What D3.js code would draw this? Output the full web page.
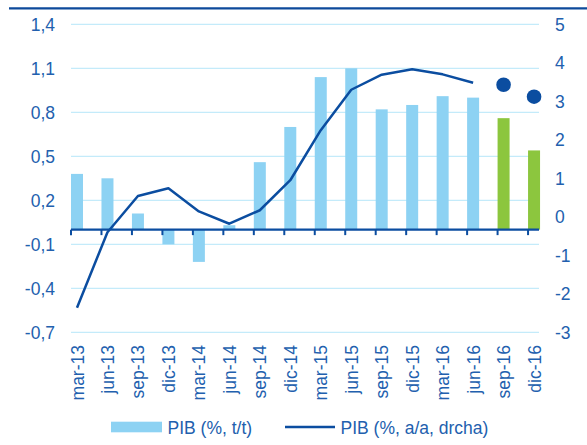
<!DOCTYPE html>
<html>
<head>
<meta charset="utf-8">
<script src="https://cdn.jsdelivr.net/npm/d3@7"></script>
<style>
  body { margin: 0; background: #fff; }
  svg { display: block; font-family: "Liberation Sans", Arial, sans-serif; }
</style>
</head>
<body>
<div id="chart"></div>
<script>
// datos
var categories = ['mar-13', 'jun-13', 'sep-13', 'dic-13', 'mar-14', 'jun-14', 'sep-14', 'dic-14',
  'mar-15', 'jun-15', 'sep-15', 'dic-15', 'mar-16', 'jun-16', 'sep-16', 'dic-16'];
var pibTrim = [0.38, 0.35, 0.11, -0.10, -0.22, 0.03, 0.46, 0.70, 1.04, 1.10, 0.82, 0.85, 0.91, 0.90, 0.76, 0.54];
var previsto = ['sep-16', 'dic-16'];
var pibAnual = [-2.36, -0.40, 0.54, 0.74, 0.14, -0.18, 0.17, 0.95, 2.25, 3.30, 3.69, 3.83, 3.70, 3.48, null, null];
var pibAnualPrev = [null, null, null, null, null, null, null, null, null, null, null, null, null, null, 3.43, 3.12];
var leftTicks = [-0.7, -0.4, -0.1, 0.2, 0.5, 0.8, 1.1, 1.4];
var rightTicks = [-3, -2, -1, 0, 1, 2, 3, 4, 5];
var legendLabels = ['PIB (%, t/t)', 'PIB (%, a/a, drcha)'];

var width = 587, height = 445;
var plotLeft = 71, plotRight = 539, plotTop = 24.3, plotBottom = 332.3;
var step = 30.47, barW = 12;
var textColor = '#2260ae', lineColor = '#0b4da0';

var es = d3.formatLocale({ decimal: ',', thousands: '.', grouping: [3], currency: ['', '€'], minus: '-' });
var fmt = es.format('.1f');

var svg = d3.select('#chart').append('svg')
  .attr('width', width)
  .attr('height', height);

var x = d3.scaleBand()
  .domain(categories)
  .range([plotLeft, plotLeft + step * categories.length])
  .padding(0);
var center = function(d) { return x(d) + barW / 2; };

var yL = d3.scaleLinear().domain([-0.7, 1.4]).range([plotBottom, plotTop]);
var yR = d3.scaleLinear().domain([-3, 5]).range([plotBottom, plotTop]);

// linea superior
svg.append('line')
  .attr('x1', 9).attr('x2', width)
  .attr('y1', 8.3).attr('y2', 8.3)
  .attr('stroke', '#0d4a9b').attr('stroke-width', 2.2);

// rejilla
svg.append('g').selectAll('line')
  .data(leftTicks)
  .enter().append('line')
  .attr('x1', plotLeft).attr('x2', plotRight)
  .attr('y1', d => yL(d)).attr('y2', d => yL(d))
  .attr('stroke', '#c4ebfa').attr('stroke-width', 1.3);

// barras
svg.append('g').selectAll('rect')
  .data(categories)
  .enter().append('rect')
  .attr('x', d => x(d))
  .attr('width', barW)
  .attr('y', (d, i) => Math.min(yL(pibTrim[i]), yL(0)))
  .attr('height', (d, i) => Math.abs(yL(pibTrim[i]) - yL(0)))
  .attr('fill', d => previsto.indexOf(d) >= 0 ? '#8cc63e' : '#8dd2f3');

// eje x
var xAxis = svg.append('g');
xAxis.append('line')
  .attr('x1', plotLeft).attr('x2', plotRight)
  .attr('y1', yL(0)).attr('y2', yL(0))
  .attr('stroke', lineColor).attr('stroke-width', 2.4);
xAxis.selectAll('.tick')
  .data(categories)
  .enter().append('line')
  .attr('x1', d => x(d)).attr('x2', d => x(d))
  .attr('y1', yL(0)).attr('y2', yL(0) + 5.5)
  .attr('stroke', lineColor).attr('stroke-width', 2);

// linea a/a
var line = d3.line()
  .defined(d => d.v != null)
  .x(d => center(d.c))
  .y(d => yR(d.v));
svg.append('path')
  .datum(categories.map((c, i) => ({ c: c, v: pibAnual[i] })))
  .attr('d', line)
  .attr('fill', 'none')
  .attr('stroke', lineColor)
  .attr('stroke-width', 2.5)
  .attr('stroke-linejoin', 'round');

svg.append('g').selectAll('circle')
  .data(categories.map((c, i) => ({ c: c, v: pibAnualPrev[i] })).filter(d => d.v != null))
  .enter().append('circle')
  .attr('cx', d => center(d.c))
  .attr('cy', d => yR(d.v))
  .attr('r', 7.3)
  .attr('fill', lineColor);

// ejes y
svg.append('g').selectAll('text')
  .data(leftTicks)
  .enter().append('text')
  .attr('x', 55).attr('y', d => yL(d))
  .attr('dy', '0.36em')
  .attr('text-anchor', 'end')
  .attr('font-size', 17.5)
  .attr('fill', textColor)
  .text(d => fmt(d));

svg.append('g').selectAll('text')
  .data(rightTicks)
  .enter().append('text')
  .attr('x', 555).attr('y', d => yR(d))
  .attr('dy', '0.36em')
  .attr('font-size', 17.5)
  .attr('fill', textColor)
  .text(d => d);

// etiquetas x
svg.append('g').selectAll('text')
  .data(categories)
  .enter().append('text')
  .attr('transform', d => 'translate(' + (center(d) + 6.5) + ',345) rotate(-90)')
  .attr('text-anchor', 'end')
  .attr('font-size', 17.5)
  .attr('fill', textColor)
  .text(d => d);

// leyenda
var leg = svg.append('g');
leg.append('rect')
  .attr('x', 111).attr('y', 421.7)
  .attr('width', 51).attr('height', 10.6)
  .attr('fill', '#8dd2f3');
leg.append('text')
  .attr('x', 167.5).attr('y', 433.5)
  .attr('font-size', 17.5).attr('fill', textColor)
  .text(legendLabels[0]);
leg.append('line')
  .attr('x1', 285).attr('x2', 335)
  .attr('y1', 427).attr('y2', 427)
  .attr('stroke', lineColor).attr('stroke-width', 2.5);
leg.append('text')
  .attr('x', 340.5).attr('y', 433.5)
  .attr('font-size', 17.5).attr('fill', textColor)
  .text(legendLabels[1]);
</script>
</body>
</html>
